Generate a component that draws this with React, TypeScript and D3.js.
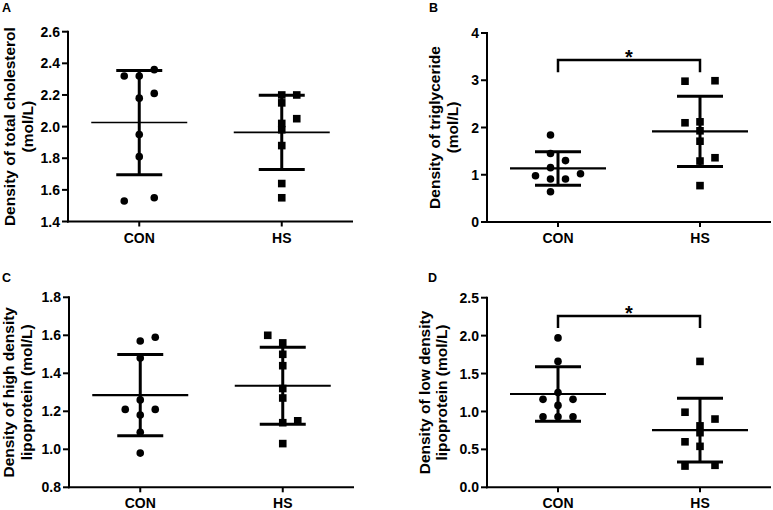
import React from "react";
import * as d3 from "d3";

// ---------- DATA ----------
const groups = ["CON", "HS"];

// Panel A: total cholesterol
const cholCON = [2.32, 2.32, 2.36, 2.18, 2.21, 1.95, 1.81, 1.53, 1.55];
const cholCONslot = [-1, 0, 1, 0, 1, 0, 0, -1, 1];
const cholHS = [2.2, 2.2, 2.15, 2.05, 2.02, 1.98, 1.88, 1.64, 1.55];
const cholHSslot = [0, 1, 0, 1, 0, 0, 0, 0, 0];
const cholTicks = [1.4, 1.6, 1.8, 2.0, 2.2, 2.4, 2.6];

// Panel B: triglyceride
const tgCON = [1.84, 1.45, 1.3, 1.15, 0.98, 0.91, 0.91, 1.02, 0.64];
const tgCONslot = [-0.5, -0.5, 0.5, -0.5, -1.5, -0.5, 0.5, 1.5, -0.5];
const tgHS = [2.98, 2.99, 2.1, 2.12, 1.93, 1.71, 1.29, 1.36, 0.77];
const tgHSslot = [-1, 1, -1, 0, 0, 0, 0, 1, 0];
const tgTicks = [0, 1, 2, 3, 4];
const tgBracket = [3.43, 3.17];

// Panel C: HDL
const hdlCON = [1.57, 1.59, 1.48, 1.26, 1.21, 1.21, 1.18, 1.09, 0.98];
const hdlCONslot = [0, 1, 0, 0, 1, -1, 0, 0, 0];
const hdlHS = [1.6, 1.56, 1.5, 1.44, 1.32, 1.27, 1.14, 1.15, 1.03];
const hdlHSslot = [-1, 0, 0, 0, 0, 0, 0, 1, 0];
const hdlTicks = [0.8, 1.0, 1.2, 1.4, 1.6, 1.8];

// Panel D: LDL
const ldlCON = [1.97, 1.66, 1.25, 1.16, 1.16, 1.08, 0.93, 0.93, 0.93];
const ldlCONslot = [0, 0, 0, -1, 1, 0, -1, 0, 1];
const ldlHS = [1.66, 0.99, 0.9, 0.81, 0.72, 0.6, 0.54, 0.28, 0.29];
const ldlHSslot = [0, -1, 1, 0, 0, -1, 0, -1, 1];
const ldlTicks = [0, 0.5, 1.0, 1.5, 2.0, 2.5];
const ldlBracket = [2.26, 2.1];

// ---------- LAYOUT ----------
const FONT = "'Liberation Sans', Arial, Helvetica, sans-serif";

type PanelCfg = {
  letter: string;
  letterX: number;
  letterY: number;
  axisX: number;
  yTop: number;
  yBot: number;
  width: number;
  title: string[];
  titleX: number[];
  ticks: number[];
  fmt: string;
  con: number[];
  conSlot: number[];
  hs: number[];
  hsSlot: number[];
  bracket?: number[];
  meanW: number;
};

const panels: PanelCfg[] = [
  {
    letter: "A", letterX: 2, letterY: 12, axisX: 68, yTop: 31.7, yBot: 221.5, width: 285,
    title: ["Density of total cholesterol", "(mol/L)"], titleX: [15, 33],
    ticks: cholTicks, fmt: ".1f", con: cholCON, conSlot: cholCONslot, hs: cholHS, hsSlot: cholHSslot, meanW: 1.6,
  },
  {
    letter: "B", letterX: 429, letterY: 12, axisX: 487, yTop: 33, yBot: 222, width: 284,
    title: ["Density of triglyceride", "(mol/L)"], titleX: [440, 458],
    ticks: tgTicks, fmt: "d", con: tgCON, conSlot: tgCONslot, hs: tgHS, hsSlot: tgHSslot, bracket: tgBracket, meanW: 2.2,
  },
  {
    letter: "C", letterX: 2, letterY: 282, axisX: 69, yTop: 297.3, yBot: 487.3, width: 285,
    title: ["Density of high density", "lipoprotein (mol/L)"], titleX: [14, 32],
    ticks: hdlTicks, fmt: ".1f", con: hdlCON, conSlot: hdlCONslot, hs: hdlHS, hsSlot: hdlHSslot, meanW: 2.2,
  },
  {
    letter: "D", letterX: 428, letterY: 282, axisX: 487, yTop: 297.7, yBot: 487.3, width: 284,
    title: ["Density of low density", "lipoprotein (mol/L)"], titleX: [430, 447],
    ticks: ldlTicks, fmt: ".1f", con: ldlCON, conSlot: ldlCONslot, hs: ldlHS, hsSlot: ldlHSslot, bracket: ldlBracket, meanW: 2.2,
  },
];

const SLOT = 15;
const R = 3.8;
const SQ = 7.6;

function Panel({ p }: { p: PanelCfg }) {
  const y = d3
    .scaleLinear()
    .domain([p.ticks[0], p.ticks[p.ticks.length - 1]])
    .range([p.yBot, p.yTop]);
  const x = d3.scalePoint<string>().domain(groups).range([p.axisX, p.axisX + p.width]).padding(0.5);
  const fmt = d3.format(p.fmt);
  const yMid = (p.yTop + p.yBot) / 2;

  const series = [
    { g: "CON", vals: p.con, slots: p.conSlot, shape: "circle" },
    { g: "HS", vals: p.hs, slots: p.hsSlot, shape: "square" },
  ];

  return (
    <g>
      <text x={p.letterX} y={p.letterY} fontSize={12.5} fontWeight="bold" fontFamily={FONT}>
        {p.letter}
      </text>
      {/* y title */}
      {p.title.map((t, i) => (
        <text
          key={i}
          transform={`translate(${p.titleX[i]},${yMid}) rotate(-90)`}
          textAnchor="middle"
          fontSize={15.5}
          fontWeight="bold"
          fontFamily={FONT}
        >
          {t}
        </text>
      ))}
      {/* y axis */}
      <line x1={p.axisX} x2={p.axisX} y1={p.yTop - 1} y2={p.yBot + 1} stroke="#000" strokeWidth={2} />
      {p.ticks.map((t) => (
        <g key={t}>
          <line x1={p.axisX - 6} x2={p.axisX} y1={y(t)} y2={y(t)} stroke="#000" strokeWidth={2} />
          <text
            x={p.axisX - 8}
            y={y(t)}
            dy="0.36em"
            textAnchor="end"
            fontSize={14}
            fontWeight="bold"
            fontFamily={FONT}
          >
            {fmt(t)}
          </text>
        </g>
      ))}
      {/* x axis */}
      <line x1={p.axisX - 1} x2={p.axisX + p.width} y1={p.yBot} y2={p.yBot} stroke="#000" strokeWidth={2} />
      {groups.map((g) => (
        <g key={g}>
          <line x1={x(g)} x2={x(g)} y1={p.yBot} y2={p.yBot + 5} stroke="#000" strokeWidth={2} />
          <text
            x={x(g)}
            y={p.yBot + 21}
            textAnchor="middle"
            fontSize={14}
            fontWeight="bold"
            fontFamily={FONT}
          >
            {g}
          </text>
        </g>
      ))}
      {/* points */}
      {series.map((s) =>
        s.vals.map((v, i) => {
          const cx = (x(s.g) as number) + s.slots[i] * SLOT;
          const cy = y(v);
          return s.shape === "circle" ? (
            <circle key={s.g + i} cx={cx} cy={cy} r={R} fill="#000" />
          ) : (
            <rect key={s.g + i} x={cx - SQ / 2} y={cy - SQ / 2} width={SQ} height={SQ} fill="#000" />
          );
        })
      )}
      {/* mean +- SD */}
      {series.map((s) => {
        const m = d3.mean(s.vals) as number;
        const sd = d3.deviation(s.vals) as number;
        const cx = x(s.g) as number;
        return (
          <g key={"e" + s.g} stroke="#000">
            <line x1={cx} x2={cx} y1={y(m + sd)} y2={y(m - sd)} strokeWidth={3} />
            <line x1={cx - 23} x2={cx + 23} y1={y(m + sd)} y2={y(m + sd)} strokeWidth={3} />
            <line x1={cx - 23} x2={cx + 23} y1={y(m - sd)} y2={y(m - sd)} strokeWidth={3} />
            <line x1={cx - 48} x2={cx + 48} y1={y(m)} y2={y(m)} strokeWidth={p.meanW} />
          </g>
        );
      })}
      {/* significance bracket */}
      {p.bracket && (
        <g>
          <path
            d={`M${x("CON")},${y(p.bracket[1])}V${y(p.bracket[0])}H${x("HS")}V${y(p.bracket[1])}`}
            fill="none"
            stroke="#000"
            strokeWidth={2.5}
          />
          <text
            x={((x("CON") as number) + (x("HS") as number)) / 2}
            y={y(p.bracket[0]) + 4}
            textAnchor="middle"
            fontSize={20}
            fontWeight="bold"
            fontFamily={FONT}
          >
            *
          </text>
        </g>
      )}
    </g>
  );
}

export default function App() {
  return (
    <svg
      width={773}
      height={510}
      style={{ position: "absolute", left: 0, top: 0, background: "#fff" }}
    >
      <rect width={773} height={510} fill="#fff" />
      {panels.map((p) => (
        <Panel key={p.letter} p={p} />
      ))}
    </svg>
  );
}
